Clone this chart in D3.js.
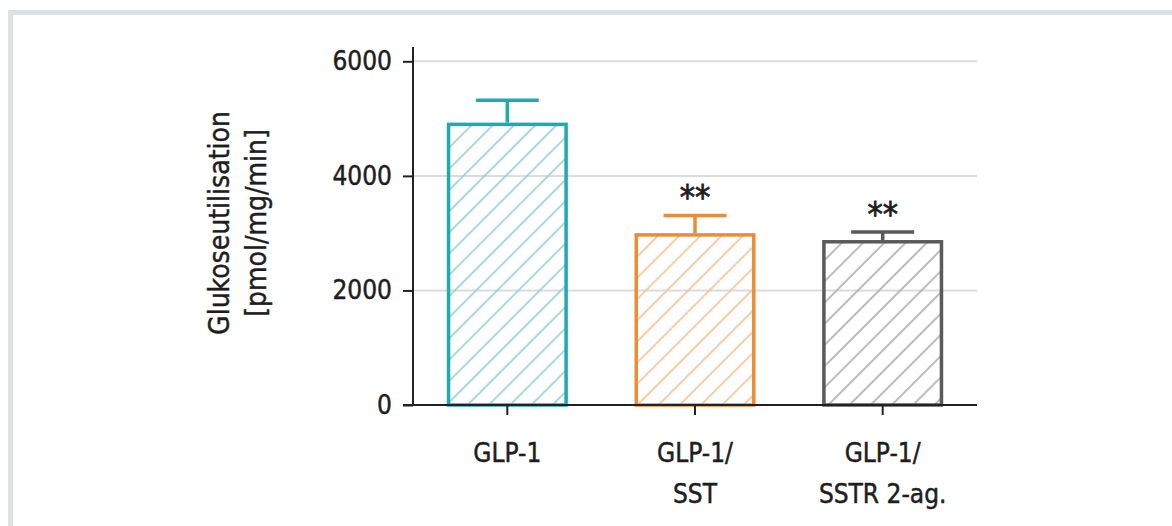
<!DOCTYPE html>
<html>
<head>
<meta charset="utf-8">
<script src="https://cdn.jsdelivr.net/npm/d3@7"></script>
<style>
  html, body { margin: 0; padding: 0; background: #ffffff; }
  svg { display: block; }
  text { font-family: "DejaVu Sans Condensed", "DejaVu Sans", sans-serif; fill: #1e1e1e; stroke: #1e1e1e; stroke-width: 0.45px; }
</style>
</head>
<body>
<svg id="chart" width="1172" height="526"></svg>
<script>
// Glucose utilisation per treatment group (mean ± SEM)
const groups = ["GLP-1", "GLP-1/SST", "GLP-1/SSTR 2-ag."];
const groupLabels = [["GLP-1"], ["GLP-1/", "SST"], ["GLP-1/", "SSTR 2-ag."]];
const means = [4930, 3000, 2880];
const errors = [390, 310, 140];
const significance = ["", "**", "**"];
const yTicks = [0, 2000, 4000, 6000];
const strokeColors = ["#1eaab2", "#ee8b37", "#5a5a5a"];
const hatchColors = ["#93cfd3", "#f5c18f", "#ababab"];

const FONT = '"DejaVu Sans Condensed", "DejaVu Sans", sans-serif';
const svg = d3.select("#chart");

// Panel frame: light rule along the top and left edges
svg.append("rect").attr("x", 8).attr("y", 10).attr("width", 1164).attr("height", 5).attr("fill", "#dde1e4");
svg.append("rect").attr("x", 8).attr("y", 10).attr("width", 5).attr("height", 516).attr("fill", "#dde1e4");

const x = d3.scaleBand().domain(groups).range([413, 977]).paddingInner(0.355).paddingOuter(0.18);
const y = d3.scaleLinear().domain([0, 6250]).range([405, 47]);

// Diagonal hatch fills
const defs = svg.append("defs");
groups.forEach((g, i) => {
  const p = defs.append("pattern")
    .attr("id", "hatch" + i)
    .attr("patternUnits", "userSpaceOnUse")
    .attr("width", 15).attr("height", 15)
    .attr("patternTransform", "rotate(45)");
  p.append("line")
    .attr("x1", 2).attr("y1", 0).attr("x2", 2).attr("y2", 15)
    .attr("stroke", hatchColors[i]).attr("stroke-width", 1.6);
});

// Horizontal gridlines
svg.append("g").selectAll("line").data(yTicks.filter(d => d > 0)).join("line")
  .attr("x1", 413).attr("x2", 977)
  .attr("y1", d => y(d)).attr("y2", d => y(d))
  .attr("stroke", "#dcdcdc").attr("stroke-width", 2);

// Bars
svg.append("g").selectAll("rect").data(groups).join("rect")
  .attr("x", d => x(d) + 1.75)
  .attr("width", x.bandwidth() - 3.5)
  .attr("y", (d, i) => y(means[i]) + 1.75)
  .attr("height", (d, i) => y(0) - y(means[i]) - 1.75)
  .attr("fill", (d, i) => `url(#hatch${i})`)
  .attr("stroke", (d, i) => strokeColors[i])
  .attr("stroke-width", 3.5);

// Error bars (upper whisker only) and significance marks
const eb = svg.append("g");
groups.forEach((g, i) => {
  const cx = x(g) + x.bandwidth() / 2;
  eb.append("line")
    .attr("x1", cx).attr("x2", cx)
    .attr("y1", y(means[i])).attr("y2", y(means[i] + errors[i]))
    .attr("stroke", strokeColors[i]).attr("stroke-width", 3.5);
  eb.append("line")
    .attr("x1", cx - 31.5).attr("x2", cx + 31.5)
    .attr("y1", y(means[i] + errors[i])).attr("y2", y(means[i] + errors[i]))
    .attr("stroke", strokeColors[i]).attr("stroke-width", 3.5);
  if (significance[i]) {
    svg.append("text")
      .attr("x", cx).attr("y", y(means[i] + errors[i]) - 6)
      .attr("text-anchor", "middle")
      .attr("font-size", 34)
      .style("stroke-width", "0.8px")
      .text(significance[i]);
  }
});

// Y axis
const yAxis = svg.append("g").attr("transform", "translate(413,0)")
  .call(d3.axisLeft(y).tickValues(yTicks).tickSize(10).tickPadding(11).tickFormat(d3.format("d")));
yAxis.select(".domain").attr("stroke", "#222").attr("stroke-width", 2).attr("d", `M0,${y(0)}V47`);
yAxis.selectAll(".tick line").attr("stroke", "#222").attr("stroke-width", 2);
yAxis.selectAll(".tick text").attr("font-size", 26).attr("fill", "#1e1e1e").style("font-family", FONT);

// X axis
const xAxis = svg.append("g").attr("transform", `translate(0,${y(0)})`)
  .call(d3.axisBottom(x).tickSize(10).tickFormat(""));
xAxis.select(".domain").attr("stroke", "#222").attr("stroke-width", 2).attr("d", "M403,0H977");
xAxis.selectAll(".tick line").attr("stroke", "#222").attr("stroke-width", 2);

// Category labels (multi-line)
svg.append("g").selectAll("text").data(groups).join("text")
  .attr("text-anchor", "middle")
  .attr("font-size", 26)
  .each(function (d, i) {
    const t = d3.select(this);
    groupLabels[i].forEach((line, k) => {
      t.append("tspan")
        .attr("x", x(d) + x.bandwidth() / 2)
        .attr("y", 462 + k * 41)
        .text(line);
    });
  });

// Y axis title
const yt = svg.append("text")
  .attr("transform", "translate(229,223) rotate(-90)")
  .attr("text-anchor", "middle")
  .attr("font-size", 28);
yt.append("tspan").attr("x", 0).attr("y", 0).text("Glukoseutilisation");
yt.append("tspan").attr("x", 0).attr("y", 37).text("[pmol/mg/min]");
</script>
</body>
</html>
